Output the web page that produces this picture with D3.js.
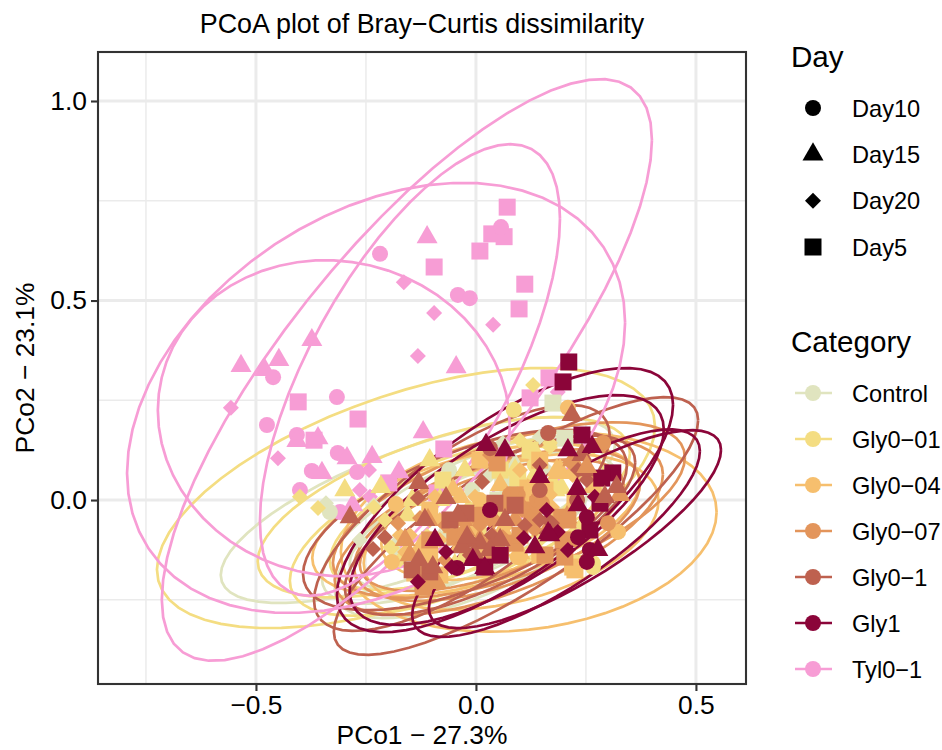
<!DOCTYPE html>
<html>
<head>
<meta charset="utf-8">
<script src="https://cdn.jsdelivr.net/npm/d3@7"></script>
<style>
  body { margin: 0; background: #fff; }
  text { font-family: "Liberation Sans", Arial, sans-serif; fill: #000; }
</style>
</head>
<body>
<svg class="chart" width="942" height="750"></svg>
<script>
// category names, colours and the day legend
var categories = ["Control", "Gly0\u221201", "Gly0\u221204", "Gly0\u221207", "Gly0\u22121", "Gly1", "Tyl0\u22121"];
var catColors = ["#e0e4bf", "#f4dd82", "#f6bf6e", "#e3955b", "#be614f", "#8b0539", "#f79dd5"];
var days = ["Day10", "Day15", "Day20", "Day5"];
var xTicks = [-0.5, 0, 0.5], xMinor = [-0.75, -0.25, 0.25];
var yTicks = [0, 0.5, 1], yMinor = [-0.25, 0.25, 0.75];

// ellipses: [centre x, centre y, half width, half height, correlation]
var controlEll = [[-0.132,-0.025,0.448,0.233,0.7],[-0.03,-0.05,0.32,0.21,0.7],[0.002,-0.088,0.323,0.208,0.65],[-0.014,-0.063,0.273,0.163,0.6]];
var gly001Ell = [[-0.159,0.005,0.566,0.326,0.55],[-0.073,-0.018,0.423,0.226,0.6],[-0.066,-0.07,0.357,0.22,0.6],[-0.048,-0.045,0.284,0.18,0.6]];
var gly004Ell = [[0.12,-0.08,0.427,0.25,0.2],[0,-0.05,0.372,0.19,0.5],[0.08,-0.08,0.335,0.195,0.4],[0.035,-0.05,0.25,0.15,0.4]];
var gly007Ell = [[0.075,-0.025,0.4,0.22,0.6],[0.052,-0.068,0.373,0.22,0.6],[0.048,-0.063,0.325,0.19,0.55],[0.036,-0.063,0.3,0.165,0.6]];
var gly01Ell = [[0.091,-0.065,0.414,0.323,0.82],[-0.025,-0.05,0.368,0.226,0.6],[-0.032,-0.045,0.336,0.283,0.73],[0.032,-0.063,0.33,0.225,0.7]];
var gly1Ell = [[0.066,0,0.382,0.331,0.72],[0.07,-0.025,0.357,0.288,0.7],[0.182,-0.083,0.327,0.26,0.79],[0.225,-0.073,0.332,0.248,0.8]];
var tylEll = [[-0.157,0.326,0.557,0.729,0.79],[-0.15,0.326,0.341,0.566,0.67],[-0.323,0.205,0.4,0.396,-0.05],[-0.227,0.256,0.566,0.539,0.35]];

// points per category, one list per day, same order as days
var tylPts = [
  [[-0.218,0.617],[-0.041,0.514],[-0.014,0.506],[0.057,0.684],[-0.461,0.308],[-0.316,0.258],[-0.475,0.188],[-0.407,0.163],[-0.314,0.118],[-0.373,0.073],[-0.27,0.07],[-0.4,0.025],[-0.309,-0.03]],
  [[-0.111,0.659],[-0.373,0.401],[-0.534,0.336],[-0.448,0.351],[-0.48,0.326],[-0.045,0.333],[-0.12,0.17],[-0.359,0.155],[-0.407,0.148],[-0.293,0.105],[-0.35,0.068],[-0.236,0.108],[-0.175,0.07],[-0.28,-0.013]],
  [[-0.164,0.546],[-0.095,0.469],[0.039,0.439],[-0.132,0.361],[-0.557,0.231],[-0.45,0.105],[-0.243,0.075],[-0.264,0.025],[-0.241,0.008],[-0.155,-0.093],[0.186,0.271]],
  [[0.071,0.734],[0.036,0.667],[0.064,0.66],[0.009,0.624],[-0.095,0.584],[0.111,0.541],[0.098,0.479],[-0.404,0.246],[-0.268,0.203],[-0.368,0.15],[-0.073,0.128],[-0.198,0.043],[-0.089,0.018],[0.166,0.306],[0.123,0.256]]
];
var controlPts = [
  [[-0.061,0.075],[-0.009,0.025],[-0.332,-0.03],[0.089,0.05]],
  [[0.089,0.088],[-0.082,-0.1]],
  [[0.145,0.158],[0.061,0.143],[0.157,0.08],[0.152,0.083],[0.032,0.063],[-0.341,-0.008],[-0.232,-0.013],[-0.264,-0.1],[-0.175,-0.1],[-0.075,-0.093],[-0.173,-0.138]],
  [[0.175,0.243],[0.202,0.155],[0.073,0.033],[0.1,0.025],[0.061,0.043],[0.05,0]]
];
var gly001Pts = [
  [[0.086,0.226],[0.252,-0.063],[0.055,-0.025],[0.266,-0.168],[0.266,-0.158],[0.248,-0.063],[0.134,0.088]],
  [[0.134,0.12],[0.175,0.043],[-0.105,0.1],[-0.216,0.033],[-0.298,0.025],[-0.155,-0.038],[0.002,-0.043],[0.089,0.075],[-0.048,-0.163],[0.18,0.025],[-0.03,-0.15],[0.195,0.03],[-0.02,-0.03],[-0.025,0.075],[0.134,0.063],[-0.014,-0.063],[-0.145,0],[-0.082,0]],
  [[0.13,0.288],[0.168,0.133],[-0.4,0.008],[-0.359,-0.02],[-0.232,-0.018],[-0.191,-0.12],[-0.157,-0.13],[-0.173,-0.15],[-0.111,-0.09],[0.1,0.15],[-0.014,-0.02],[-0.195,-0.118],[0.145,-0.1],[0.168,0.143],[0.009,0.113],[-0.207,-0.05]],
  [[0.095,0.055],[-0.075,0.05],[0.005,-0.088],[0.123,0.125],[0.22,-0.158],[0.055,0.075],[0.1,0]]
];
var gly004Pts = [
  [[0.323,-0.08],[0.209,0.231],[-0.182,-0.01],[-0.191,-0.155],[0.095,-0.143],[0.105,0.005],[0.1,-0.143],[0.009,0]],
  [[0.191,0.075],[0.186,0.068],[-0.014,-0.05],[0.061,-0.075],[-0.052,0.025],[-0.052,-0.068],[-0.127,-0.118],[0.1,-0.133],[0.22,0.068],[0.184,0.075],[-0.036,0.008],[0.118,0.025],[0.009,-0.133],[0.266,0.033],[0.055,0.038],[-0.036,-0.113],[0.055,-0.125]],
  [[-0.002,0.008],[-0.093,0.008],[-0.161,-0.13],[-0.082,-0.05],[0.22,0.063],[0.032,0.113],[0.077,0],[0.168,0.013],[0.066,-0.068],[0.1,-0.025],[0.184,-0.043],[0.173,-0.018],[0.218,0.068],[-0.105,-0.05],[-0.082,-0.1],[-0.173,-0.088],[0.145,-0.05],[-0.15,-0.088],[0.1,0.075]],
  [[0.22,-0.168],[0.118,0.03],[0.225,-0.175],[-0.082,-0.188],[0.009,0.1],[0.145,0.1],[-0.139,-0.183],[-0.007,-0.068],[0.145,-0.138],[0.157,0.025],[-0.105,-0.025],[0.225,0],[-0.105,-0.138]]
];
var gly007Pts = [
  [[0.289,0.143],[0.3,-0.058],[0.077,0.013],[0.095,0.013],[0.139,0],[0.15,-0.008]],
  [[0.123,-0.05],[0.1,-0.008],[0.039,-0.093],[0.22,0.1],[-0.109,-0.05],[-0.093,-0.2],[0.009,-0.1],[0.184,-0.075],[0.207,-0.043],[-0.03,-0.05],[-0.089,-0.208],[-0.161,-0.1],[0.089,-0.05],[0.066,-0.013],[0.168,-0.063],[-0.025,-0.075],[0.259,0.063],[-0.15,-0.138]],
  [[0.032,0.113],[0.009,-0.063],[0.105,-0.025],[-0.02,-0.1],[-0.177,-0.058],[-0.127,-0.045],[0.214,0.095],[0.032,-0.05],[-0.07,-0.15],[0.061,-0.093],[-0.048,-0.088],[0.027,-0.15],[-0.07,-0.063],[0.134,-0.075],[0.043,-0.05],[0.225,-0.1]],
  [[0.048,0.093],[0.202,-0.143],[0.195,-0.043],[0.127,-0.025],[0.207,-0.045],[-0.12,-0.208],[-0.048,-0.093],[0.089,0.013],[0.089,-0.108],[0.141,-0.013],[0.198,-0.1],[0.209,-0.05],[-0.12,-0.218],[0.009,-0.038],[0.1,-0.088],[0.157,-0.138],[-0.105,-0.1]]
];
var gly01Pts = [
  [[0.164,0.168],[0.032,0.13],[0.145,0.025],[0.23,0]],
  [[0.218,0.213],[-0.286,-0.043],[-0.13,0.043],[-0.068,0.005],[-0.041,-0.038],[-0.13,-0.15],[-0.098,-0.168],[-0.032,-0.118],[0.009,-0.108],[0.252,0.075],[0.241,0.113],[-0.02,-0.093],[0.055,-0.1],[-0.002,-0.138],[0.032,-0.125],[-0.116,-0.05],[0.066,-0.05]],
  [[-0.132,0.005],[-0.207,-0.093],[-0.234,-0.123],[0.014,0.045],[0.036,-0.088],[0.164,-0.05],[0.232,0.075],[-0.014,-0.138],[0.145,0.088],[0.252,0.05],[0.173,-0.058],[0.161,-0.083],[0.145,-0.05],[-0.014,-0.1],[0.111,-0.063]],
  [[-0.145,-0.175],[0.043,-0.008],[-0.023,-0.033],[-0.105,-0.18],[0.089,-0.013],[-0.059,-0.05]]
];
var gly1Pts = [
  [[0.032,-0.025],[0.252,-0.043],[0.232,-0.093],[0.259,-0.125],[0.252,-0.155],[-0.043,-0.17]],
  [[0.209,0.125],[0.264,0.133],[0.23,0.028],[0.232,-0.013],[0.277,-0.125],[0.164,-0.083],[0.145,0.058],[0.134,-0.118],[0.168,-0.088],[-0.007,-0.15],[0.02,-0.17],[0.066,0.125],[-0.093,-0.1],[0.023,0.138]],
  [[0.27,0.008],[0.161,-0.025],[0.186,-0.08],[0.209,-0.125],[0.109,-0.095],[-0.132,-0.205],[-0.068,-0.13],[-0.055,-0.168]],
  [[0.211,0.346],[0.198,0.296],[0.241,0.163],[0.311,0.068],[0.286,0.055],[0.282,-0.008],[0.259,-0.075],[0.055,-0.138],[0.02,-0.168]]
];
// a few triangles on the right that sit above the Gly1 marks
var gly01Late = [[0.32,0.033],[0.293,0.008]];
var gly007Late = [[0.327,0.013],[0.252,0.083]];

var chart = d3.select("svg.chart");
var margin = {top: 52, right: 196, bottom: 66, left: 98};
var width = 942 - margin.left - margin.right, height = 750 - margin.top - margin.bottom;

var xScale = d3.scaleLinear().domain([-0.859, 0.6138]).range([0, width]);
var yScale = d3.scaleLinear().domain([-0.461, 1.1228]).range([height, 0]);

var g = chart.append("g").attr("transform", "translate(" + margin.left + "," + margin.top + ")");

// grid
function vGrid(vals, w) {
  g.selectAll(null).data(vals).enter().append("line")
    .attr("x1", function(d) { return xScale(d); }).attr("x2", function(d) { return xScale(d); })
    .attr("y1", 0).attr("y2", height).attr("stroke", "#ebebeb").attr("stroke-width", w);
}
function hGrid(vals, w) {
  g.selectAll(null).data(vals).enter().append("line")
    .attr("y1", function(d) { return yScale(d); }).attr("y2", function(d) { return yScale(d); })
    .attr("x1", 0).attr("x2", width).attr("stroke", "#ebebeb").attr("stroke-width", w);
}
vGrid(xMinor, 1.5); hGrid(yMinor, 1.5);
vGrid(xTicks, 3); hGrid(yTicks, 3);

// ellipses
var line = d3.line().x(function(d) { return xScale(d[0]); }).y(function(d) { return yScale(d[1]); });
function ellipsePoints(e) {
  var phi = Math.acos(e[4]);
  return d3.range(0, 61).map(function(i) {
    var t = i / 60 * 2 * Math.PI;
    return [e[0] + e[2] * Math.cos(t), e[1] + e[3] * Math.cos(t - phi)];
  });
}
[controlEll, gly001Ell, gly004Ell, gly007Ell, gly01Ell, gly1Ell, tylEll].forEach(function(list, c) {
  g.selectAll(null).data(list).enter().append("path")
    .attr("d", function(d) { return line(ellipsePoints(d)); })
    .attr("fill", "none").attr("stroke", catColors[c]).attr("stroke-width", 2.7);
});

// marks
var symbolFor = [
  d3.symbol().type(d3.symbolCircle).size(201),
  d3.symbol().type(d3.symbolTriangle).size(191),
  d3.symbol().type(d3.symbolSquare).size(128),
  d3.symbol().type(d3.symbolSquare).size(289)
];
function drawMark(sel, dayIdx, color) {
  sel.attr("d", symbolFor[dayIdx]()).attr("fill", color);
}
function drawPoints(pts, dayIdx, c) {
  g.selectAll(null).data(pts).enter().append("path")
    .attr("transform", function(d) {
      return "translate(" + xScale(d[0]) + "," + yScale(d[1]) + ")" + (dayIdx === 2 ? " rotate(45)" : "");
    })
    .call(drawMark, dayIdx, catColors[c]);
}
[[6, tylPts], [0, controlPts], [1, gly001Pts], [2, gly004Pts], [3, gly007Pts], [4, gly01Pts], [5, gly1Pts]].forEach(function(r) {
  [3, 0, 2, 1].forEach(function(dayIdx) { drawPoints(r[1][dayIdx], dayIdx, r[0]); });
});
drawPoints(gly007Late, 1, 3);
drawPoints(gly01Late, 1, 4);

// panel border
g.append("rect").attr("width", width).attr("height", height)
  .attr("fill", "none").attr("stroke", "#333333").attr("stroke-width", 2.1);

// axes
var xAxis = d3.axisBottom(xScale).tickValues(xTicks).tickFormat(d3.format(".1f")).tickSize(7).tickPadding(4);
var yAxis = d3.axisLeft(yScale).tickValues(yTicks).tickFormat(d3.format(".1f")).tickSize(7).tickPadding(4);
var xG = g.append("g").attr("transform", "translate(0," + height + ")").call(xAxis);
var yG = g.append("g").call(yAxis);
[xG, yG].forEach(function(a) {
  a.select(".domain").remove();
  a.selectAll(".tick line").attr("stroke", "#333333").attr("stroke-width", 2.1);
  a.selectAll(".tick text").attr("font-size", 26.4).attr("fill", "#000").attr("font-family", "Liberation Sans");
});

// titles
chart.append("text").attr("x", 422).attr("y", 33).attr("text-anchor", "middle").attr("font-size", 26.9)
  .text("PCoA plot of Bray\u2212Curtis dissimilarity");
chart.append("text").attr("x", 422).attr("y", 744).attr("text-anchor", "middle").attr("font-size", 26.4)
  .text("PCo1 \u2212 27.3%");
chart.append("text").attr("transform", "translate(34,368) rotate(-90)").attr("text-anchor", "middle").attr("font-size", 26.4)
  .text("PCo2 \u2212 23.1%");

// legend: day
var legendY = d3.scalePoint().domain(days).range([108, 247]);
chart.append("text").attr("x", 791).attr("y", 67).attr("font-size", 29.6).text("Day");
days.forEach(function(day, i) {
  chart.append("path")
    .attr("transform", "translate(813," + legendY(day) + ")" + (i === 2 ? " rotate(45)" : ""))
    .call(drawMark, i, "#000");
  chart.append("text").attr("x", 852).attr("y", legendY(day) + 8.5).attr("font-size", 23.6).text(day);
});

// legend: category
var catY = d3.scalePoint().domain(categories).range([393, 669]);
chart.append("text").attr("x", 791).attr("y", 352).attr("font-size", 29.6).text("Category");
categories.forEach(function(cat, i) {
  var y = catY(cat);
  chart.append("line").attr("x1", 795).attr("x2", 832).attr("y1", y).attr("y2", y)
    .attr("stroke", catColors[i]).attr("stroke-width", 2.7);
  chart.append("circle").attr("cx", 813).attr("cy", y).attr("r", 8).attr("fill", catColors[i]);
  chart.append("text").attr("x", 852).attr("y", y + 8.5).attr("font-size", 23.6).text(cat);
});
</script>
</body>
</html>
